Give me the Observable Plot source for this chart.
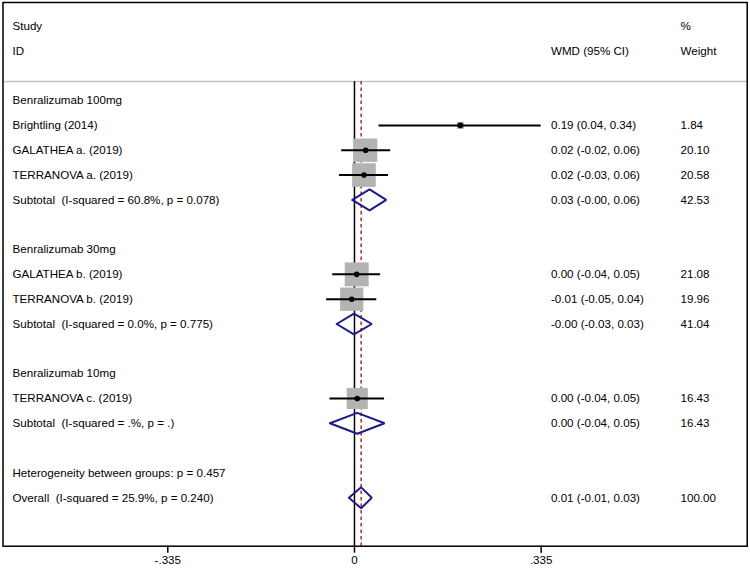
<!DOCTYPE html>
<html>
<head>
<meta charset="utf-8">
<script src="https://cdn.jsdelivr.net/npm/d3@7"></script>
<script src="https://cdn.jsdelivr.net/npm/@observablehq/plot@0.6"></script>
<style>
  html, body { margin: 0; padding: 0; background: #fff; }
  svg text { white-space: pre; }
</style>
</head>
<body>
<div id="chart"></div>
<script>
// ---- Data ----
const headerTexts = ["Study", "ID"];
const headerRows = [-3, -2];
const groupLabels = ["Benralizumab 100mg", "Benralizumab 30mg", "Benralizumab 10mg"];
const groupRows = [0, 6, 11];

const studyLabels = ["Brightling (2014)", "GALATHEA a. (2019)", "TERRANOVA a. (2019)", "GALATHEA b. (2019)", "TERRANOVA b. (2019)", "TERRANOVA c. (2019)"];
const studyRows = [1, 2, 3, 7, 8, 12];
const studyEst = [0.190, 0.020, 0.017, 0.004, -0.005, 0.005];
const studyLo = [0.044, -0.023, -0.027, -0.039, -0.050, -0.044];
const studyHi = [0.335, 0.065, 0.061, 0.047, 0.040, 0.054];
const studyWeight = [1.84, 20.10, 20.58, 21.08, 19.96, 16.43];
const studyCI = ["0.19 (0.04, 0.34)", "0.02 (-0.02, 0.06)", "0.02 (-0.03, 0.06)", "0.00 (-0.04, 0.05)", "-0.01 (-0.05, 0.04)", "0.00 (-0.04, 0.05)"];
const studyWeightText = ["1.84", "20.10", "20.58", "21.08", "19.96", "16.43"];

const pooledLabels = ["Subtotal  (I-squared = 60.8%, p = 0.078)", "Subtotal  (I-squared = 0.0%, p = 0.775)", "Subtotal  (I-squared = .%, p = .)", "Overall  (I-squared = 25.9%, p = 0.240)"];
const pooledRows = [4, 9, 13, 16];
const pooledEst = [0.027, -0.001, 0.005, 0.012];
const pooledLo = [-0.004, -0.032, -0.044, -0.010];
const pooledHi = [0.057, 0.031, 0.054, 0.031];
const pooledCI = ["0.03 (-0.00, 0.06)", "-0.00 (-0.03, 0.03)", "0.00 (-0.04, 0.05)", "0.01 (-0.01, 0.03)"];
const pooledWeightText = ["42.53", "41.04", "16.43", "100.00"];

const noteLabels = ["Heterogeneity between groups: p = 0.457"];
const noteRows = [15];

const tickValues = [-0.335, 0, 0.335];
const tickLabels = ["-.335", "0", ".335"];

const overallEst = 0.012;

// ---- Layout ----
const ROW_TOP = -3.95, ROW_BOTTOM = 17.95, RULE_ROW = -0.77;
const DIAMOND_HALF = 0.42;
const navy = "#1c1c84";
const FONT = 11.6;
const FAMILY = "'Liberation Sans', Arial, sans-serif";

const studies = studyLabels.map((label, i) => ({
  label, row: studyRows[i], est: studyEst[i], lo: studyLo[i], hi: studyHi[i],
  weight: studyWeight[i], ci: studyCI[i], wt: studyWeightText[i]
}));
const pooled = pooledLabels.map((label, i) => ({
  label, row: pooledRows[i], est: pooledEst[i], lo: pooledLo[i], hi: pooledHi[i],
  ci: pooledCI[i], wt: pooledWeightText[i]
}));
const diamondPts = pooled.flatMap((d, i) => [
  {id: i, x: d.lo, y: d.row},
  {id: i, x: d.est, y: d.row - DIAMOND_HALF},
  {id: i, x: d.hi, y: d.row},
  {id: i, x: d.est, y: d.row + DIAMOND_HALF},
  {id: i, x: d.lo, y: d.row}
]);
const leftTexts = [
  ...headerTexts.map((t, i) => ({t, row: headerRows[i]})),
  ...groupLabels.map((t, i) => ({t, row: groupRows[i]})),
  ...studies.map(d => ({t: d.label, row: d.row})),
  ...pooled.map(d => ({t: d.label, row: d.row})),
  ...noteLabels.map((t, i) => ({t, row: noteRows[i]}))
];
const ciTexts = [
  {t: "WMD (95% CI)", row: -2},
  ...studies.map(d => ({t: d.ci, row: d.row})),
  ...pooled.map(d => ({t: d.ci, row: d.row}))
];
const wtTexts = [
  {t: "%", row: -3},
  {t: "Weight", row: -2},
  ...studies.map(d => ({t: d.wt, row: d.row})),
  ...pooled.map(d => ({t: d.wt, row: d.row}))
];

const textOpts = {y: "row", text: "t", frameAnchor: "left", textAnchor: "start", fill: "black", fontSize: FONT, fontFamily: FAMILY};

const chart = Plot.plot({
  width: 750,
  height: 570,
  marginLeft: 2.5,
  marginRight: 3.3,
  marginTop: 2,
  marginBottom: 24.3,
  style: {fontFamily: FAMILY, fontSize: FONT + "px", background: "#fff", color: "black"},
  x: {domain: [-0.6307, 0.7047]},
  y: {domain: [ROW_TOP, ROW_BOTTOM], reverse: true, axis: null},
  r: {type: "sqrt", domain: [0, 21.08], range: [0, 13.5]},
  marks: [
    Plot.ruleY([RULE_ROW], {stroke: "#c4c4c4", strokeWidth: 1.5}),
    Plot.ruleX([0], {y1: RULE_ROW, y2: ROW_BOTTOM, stroke: "black", strokeWidth: 1.5}),
    Plot.ruleX([overallEst], {y1: RULE_ROW, y2: ROW_BOTTOM, stroke: "#b3262c", strokeWidth: 1.5, strokeDasharray: "3.5,3"}),
    Plot.dot(studies, {x: "est", y: "row", r: "weight", symbol: "square", fill: "#b3b3b3", stroke: null}),
    Plot.ruleY(studies, {y: "row", x1: "lo", x2: "hi", stroke: "black", strokeWidth: 2}),
    Plot.dot(studies, {x: "est", y: "row", r: 2.8, fill: "black", stroke: null}),
    Plot.line(diamondPts, {x: "x", y: "y", z: "id", stroke: navy, strokeWidth: 2, strokeLinejoin: "miter"}),
    Plot.text(leftTexts, {...textOpts, dx: 9.5}),
    Plot.text(ciTexts, {...textOpts, dx: 548}),
    Plot.text(wtTexts, {...textOpts, dx: 677.5}),
    Plot.axisX({ticks: tickValues, tickFormat: (d) => tickLabels[tickValues.indexOf(d)], tickSize: 7, tickPadding: 3, strokeWidth: 1.5, fontSize: FONT, fontFamily: FAMILY, label: null}),
    Plot.frame({stroke: "black", strokeWidth: 1.5})
  ]
});
document.getElementById("chart").appendChild(chart);
</script>
</body>
</html>
